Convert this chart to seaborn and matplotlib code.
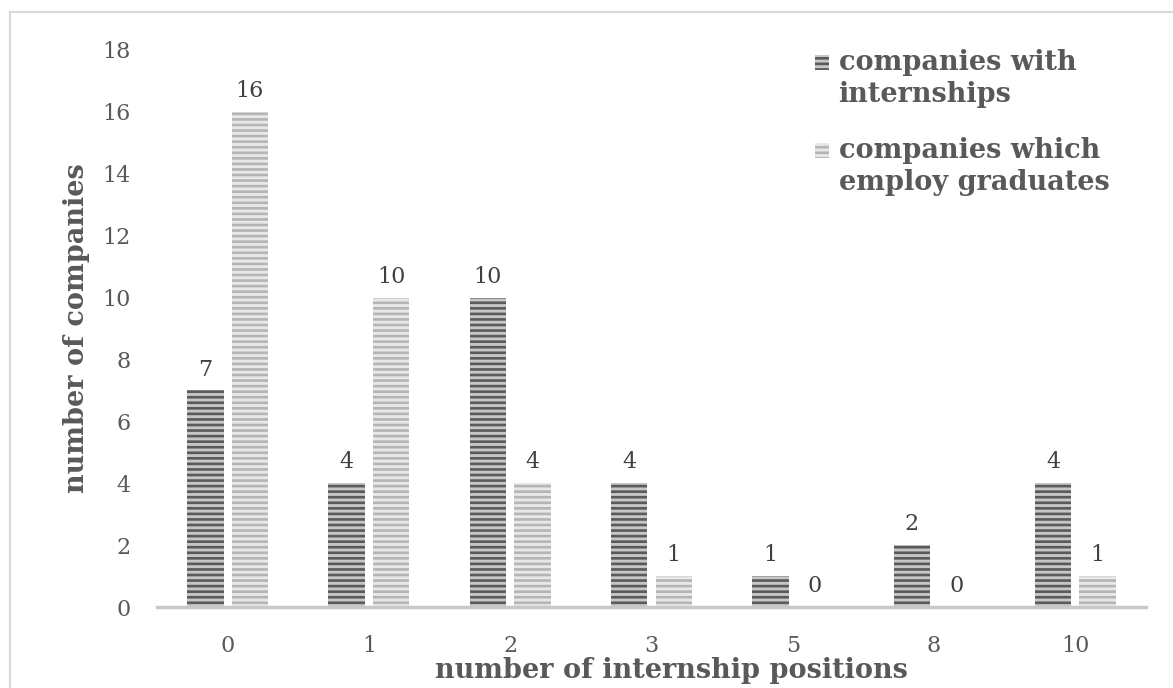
import matplotlib
matplotlib.use("Agg")
import matplotlib.pyplot as plt
from matplotlib.patches import Patch, Rectangle
from matplotlib.legend_handler import HandlerPatch
import pandas as pd
import seaborn as sns

# Survey results: number of internship positions offered per company
positions = ["0", "1", "2", "3", "5", "8", "10"]
with_internships = [7, 4, 10, 4, 1, 2, 4]
employ_graduates = [16, 10, 4, 1, 0, 0, 1]
series_names = ["companies with\ninternships", "companies which\nemploy graduates"]
y_ticks = [0, 2, 4, 6, 8, 10, 12, 14, 16, 18]

df = pd.DataFrame({
    "positions": positions * 2,
    "companies": with_internships + employ_graduates,
    "series": [series_names[0]] * len(positions) + [series_names[1]] * len(positions),
})

sns.set_theme(style="white")
plt.rcParams["font.family"] = ["DejaVu Serif"]
plt.rcParams["hatch.linewidth"] = 1.9

text_color = "#595959"
face_colors = ["#c6c6c6", "#e8e8e8"]
stripe_colors = ["#5a5a5a", "#b5b5b5"]
bold_size = 19.5

fig = plt.figure(figsize=(11.73, 6.88), dpi=100)
ax = fig.add_axes([157 / 1173, 1 - 607 / 688, (1146 - 157) / 1173, (607 - 50) / 688])

sns.barplot(
    data=df, x="positions", y="companies", hue="series",
    order=positions, hue_order=series_names,
    width=0.63, gap=0.18, legend=False, ax=ax,
)

# Striped fill for each series
n = len(positions)
for i, bar in enumerate(ax.patches[: 2 * n]):
    s = i // n
    bar.set_facecolor(face_colors[s])
    bar.set_edgecolor(stripe_colors[s])
    bar.set_linewidth(0)
    bar.set_hatch("---")

for container in ax.containers:
    ax.bar_label(container, padding=7, fontsize=16, color="#404040")

ax.set_ylim(0, 18)
ax.set_yticks(y_ticks)
ax.tick_params(axis="both", length=0, labelsize=16, labelcolor=text_color)
ax.tick_params(axis="y", pad=19)
ax.tick_params(axis="x", pad=20)

for side in ["top", "right", "left"]:
    ax.spines[side].set_visible(False)
ax.spines["bottom"].set_color("#c8c8c8")
ax.spines["bottom"].set_linewidth(2.5)

ax.set_xlabel("number of internship positions", fontsize=bold_size, fontweight="bold",
              color=text_color)
ax.xaxis.set_label_coords(0.52, -0.090)
ax.set_ylabel("number of companies", fontsize=bold_size, fontweight="bold",
              color=text_color)
ax.yaxis.set_label_coords(-0.068, 0.50)


def top_aligned_square(legend, orig_handle, xdescent, ydescent, width, height, fontsize):
    # keep the key beside the first line of a two-line label
    return Rectangle((-xdescent, -ydescent + 0.62 * fontsize), width, height)


handles = [
    Patch(facecolor=face_colors[k], edgecolor=stripe_colors[k], linewidth=0,
          hatch="---", label=series_names[k])
    for k in range(2)
]
leg = fig.legend(handles=handles, loc="upper left", bbox_to_anchor=(815 / 1173, 1 - 49 / 688),
                 frameon=False, handlelength=0.5, handleheight=0.5, handletextpad=0.37,
                 labelspacing=1.05, borderpad=0.0, borderaxespad=0.0,
                 handler_map={Patch: HandlerPatch(patch_func=top_aligned_square)},
                 prop={"family": "DejaVu Serif", "weight": "bold", "size": bold_size},
                 labelcolor=text_color)
for t in leg.get_texts():
    t.set_linespacing(1.25)

# Outer chart-area border
fig.add_artist(Rectangle((10 / 1173, -0.2), 1.2, 1 - 12 / 688 + 0.2,
                         transform=fig.transFigure, fill=False,
                         edgecolor="#d9d9d9", linewidth=1.5))

fig.savefig("out.png", dpi=100)
